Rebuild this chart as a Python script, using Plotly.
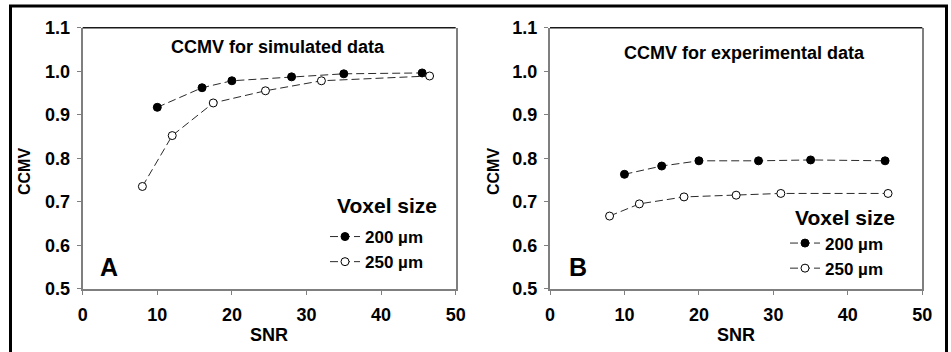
import plotly.graph_objects as go

W, H = 951, 352

# ---- data ----
snr_a_200 = [10, 16, 20, 28, 35, 45.5]
ccmv_a_200 = [0.917, 0.962, 0.978, 0.987, 0.994, 0.996]
snr_a_250 = [8, 12, 17.5, 24.5, 32, 46.5]
ccmv_a_250 = [0.735, 0.852, 0.927, 0.955, 0.978, 0.989]

snr_b_200 = [10, 15, 20, 28, 35, 45]
ccmv_b_200 = [0.763, 0.782, 0.794, 0.794, 0.796, 0.794]
snr_b_250 = [8, 12, 18, 25, 31, 45.4]
ccmv_b_250 = [0.667, 0.695, 0.711, 0.715, 0.719, 0.719]

series_names = ["200 µm", "250 µm"]
x_ticks = [0, 10, 20, 30, 40, 50]
y_ticks = [0.5, 0.6, 0.7, 0.8, 0.9, 1.0, 1.1]

FONT = "Liberation Sans, Arial, sans-serif"
AXIS_GREY = "#7f7f7f"
LINE_C = "#2a2a2a"

def px_x(p):
    return p / W

def px_y(p):
    return 1 - p / H

fig = go.Figure()

def add_pair(xa, ya, x200, y200, x250, y250, legend):
    fig.add_trace(go.Scatter(
        x=x200, y=y200, xaxis=xa, yaxis=ya, name=series_names[0],
        mode="lines+markers", legend=legend, legendgroup=legend + "a",
        line=dict(color=LINE_C, width=1, dash="8px,4px"),
        marker=dict(symbol="circle", size=8, color="black",
                    line=dict(color="black", width=1)),
    ))
    fig.add_trace(go.Scatter(
        x=x250, y=y250, xaxis=xa, yaxis=ya, name=series_names[1],
        mode="lines+markers", legend=legend, legendgroup=legend + "b",
        line=dict(color=LINE_C, width=1, dash="8px,4px"),
        marker=dict(symbol="circle", size=8, color="white",
                    line=dict(color="black", width=1)),
    ))

add_pair("x", "y", snr_a_200, ccmv_a_200, snr_a_250, ccmv_a_250, "legend")
add_pair("x2", "y2", snr_b_200, ccmv_b_200, snr_b_250, ccmv_b_250, "legend2")

ydom = [px_y(288.7), px_y(27.7)]
xdomA = [px_x(82.7), px_x(455.7)]
xdomB = [px_x(550), px_x(922.3)]

tickfont = dict(family=FONT, size=18, color="black", weight="bold")

def xaxis_cfg(dom, anchor):
    return dict(domain=dom, anchor=anchor, range=[0, 50], tickvals=x_ticks,
                showgrid=False, zeroline=False, showline=True, linecolor=AXIS_GREY,
                linewidth=2, mirror=False, ticks="outside", ticklen=4, tickcolor=AXIS_GREY,
                tickwidth=1, tickfont=tickfont, ticklabelstandoff=5, fixedrange=True)

def yaxis_cfg(anchor):
    return dict(domain=ydom, anchor=anchor, range=[0.5, 1.1], tickvals=y_ticks,
                tickformat=".1f", showgrid=False, zeroline=False, showline=True,
                linecolor=AXIS_GREY, linewidth=2, mirror=True, ticks="outside",
                ticklen=4, tickcolor=AXIS_GREY, tickwidth=1, tickfont=tickfont,
                ticklabelstandoff=3, fixedrange=True)

legfont = dict(family=FONT, size=17, color="black", weight="bold")

fig.update_layout(
    width=W, height=H,
    margin=dict(l=0, r=0, t=0, b=0, autoexpand=False),
    paper_bgcolor="white", plot_bgcolor="white",
    xaxis=xaxis_cfg(xdomA, "y"),
    yaxis=yaxis_cfg("x"),
    xaxis2=xaxis_cfg(xdomB, "y2"),
    yaxis2=yaxis_cfg("x2"),
    showlegend=True,
    legend=dict(x=px_x(325), y=px_y(219), xanchor="left", yanchor="top",
                bgcolor="rgba(0,0,0,0)", font=legfont, traceorder="grouped",
                tracegroupgap=0, itemclick=False, itemdoubleclick=False),
    legend2=dict(x=px_x(785), y=px_y(225.5), xanchor="left", yanchor="top",
                 bgcolor="rgba(0,0,0,0)", font=legfont, traceorder="grouped",
                 tracegroupgap=0, itemclick=False, itemdoubleclick=False),
)

def ann(x, y, text, size, xanchor="center", yanchor="middle", angle=0):
    fig.add_annotation(x=px_x(x), y=px_y(y), xref="paper", yref="paper", text=text,
                       showarrow=False, xanchor=xanchor, yanchor=yanchor, textangle=angle,
                       font=dict(family=FONT, size=size, color="black", weight="bold"))

# panel titles and labels
ann(277.5, 47, "CCMV for simulated data", 18)
ann(744, 53, "CCMV for experimental data", 18)
ann(386.7, 205, "Voxel size", 21)
ann(845, 218, "Voxel size", 21)
ann(109, 267, "A", 25)
ann(578, 267, "B", 25)
ann(269, 335, "SNR", 18)
ann(736, 335, "SNR", 18)
ann(24, 172, "CCMV", 16, angle=-90)
ann(493, 172, "CCMV", 16, angle=-90)

# top frame line of each panel (dark)
for xr, yr in (("x domain", "y domain"), ("x2 domain", "y2 domain")):
    fig.add_shape(type="line", xref=xr, yref=yr, x0=0, x1=1, y0=1, y1=1,
                  line=dict(color="#1a1a1a", width=1.5))

# outer black border
fig.add_shape(type="rect", xref="paper", yref="paper",
              x0=px_x(10.5), x1=px_x(946.5), y0=px_y(360), y1=px_y(6),
              line=dict(color="black", width=3), fillcolor="rgba(0,0,0,0)")

fig.write_html(
    "out.html",
    config={"displayModeBar": False},
    post_script="document.body.style.margin='0';document.body.style.overflow='hidden';",
)
